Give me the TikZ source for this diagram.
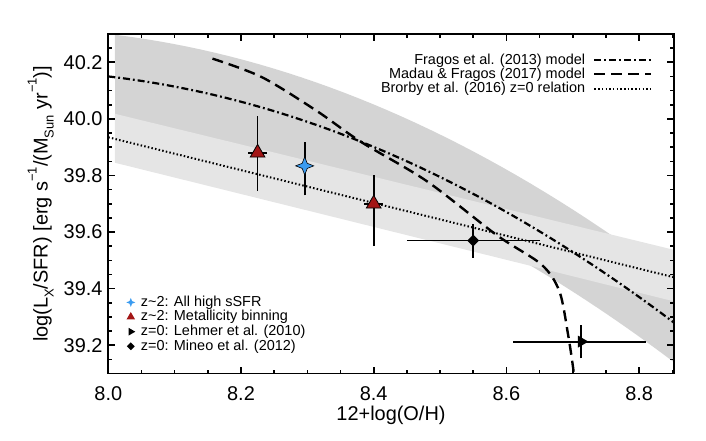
\documentclass[tikz,border=0pt]{standalone}
\usepackage{fontspec}
\setmainfont{Liberation Sans}
\usetikzlibrary{shapes.geometric}
\definecolor{dkband}{gray}{0.83}
\definecolor{ltband}{gray}{0.9}
\definecolor{tricol}{HTML}{A31515}
\definecolor{starcol}{HTML}{3A9BF0}
\newcommand\mysub[1]{\raisebox{-0.3em}{\fontsize{13}{13}\selectfont #1}}
\newcommand\mysup[1]{\raisebox{0.55em}{\fontsize{13}{13}\selectfont #1}}
\tikzset{
  axlab/.style={font=\fontsize{20}{20}\selectfont, inner sep=0pt},
  leg/.style={font=\fontsize{14.5}{14.5}\selectfont, inner sep=0pt},
  dashdotline/.style={line width=2.2bp, dash pattern=on 7bp off 3bp on 1.8bp off 3bp},
  dashline/.style={line width=2.4bp, dash pattern=on 11bp off 6bp},
  dotline/.style={line width=2bp, dash pattern=on 1.5bp off 2.2bp},
  errbar/.style={line width=1.8bp},
  tri/.style={regular polygon, regular polygon sides=3, inner sep=0pt, minimum size=#1, fill=tricol, draw=black, line width=0.8bp},
  rtri/.style={regular polygon, regular polygon sides=3, rotate=-90, inner sep=0pt, minimum size=#1, fill=black},
  bstar/.style={star, star points=4, star point ratio=2.5, inner sep=0pt, minimum size=#1, fill=starcol, draw=black, line width=0.6bp},
  dmd/.style={diamond, inner sep=0pt, minimum size=#1, fill=black},
}
\begin{document}
\begin{tikzpicture}[x=1bp,y=1bp]
\useasboundingbox (0,0) rectangle (706,441);
\begin{scope}[shift={(108.3,39.1)}, x=663.5bp, y=283bp]
  \begin{scope}
    \clip (0,0.1) rectangle (0.853,1.3);
    \fill[dkband] plot[domain=0.01:0.853,samples=40] (\x,{1.30-0.271*\x-0.879*\x*\x})
       -- plot[domain=0.853:0.01,samples=60] (\x,{min(1.01-0.271*\x-0.879*\x*\x, 0.99-0.5706*\x)}) -- cycle;
    \fill[ltband] (0.01,1.018) -- (0.853,0.537) -- (0.853,0.355) -- (0.01,0.845) -- cycle;
    \draw[dotline] (0,0.935) -- (0.853,0.44);
    \draw[dashdotline] plot[domain=0:0.853,samples=50] (\x,{1.15-0.271*\x-0.879*\x*\x});
    \draw[dashline] plot[smooth] coordinates {(0.157,1.213) (0.231,1.148) (0.313,1.03) (0.38,0.92) (0.48,0.78) (0.585,0.59) (0.653,0.485) (0.68,0.39) (0.693,0.237) (0.70,0.13) (0.702,0.09)};
  \end{scope}
  % error bars
  \draw[errbar] (0.225,0.745) -- (0.225,1.01) (0.211,0.88) -- (0.239,0.88);
  \draw[errbar] (0.296,0.73) -- (0.296,0.92);
  \draw[errbar] (0.40,0.55) -- (0.40,0.80) (0.386,0.70) -- (0.414,0.70);
  \draw[errbar] (0.45,0.57) -- (0.65,0.57) (0.55,0.51) -- (0.55,0.627);
  \draw[errbar] (0.61,0.213) -- (0.81,0.213) (0.713,0.154) -- (0.713,0.272);
  % markers
  \node[tri=17bp] (t1) at (0.225,0.88) {};
  \node[bstar=18bp] (s1) at (0.296,0.834) {};
  \node[tri=17bp] (t2) at (0.40,0.70) {};
  \node[dmd=12bp] (d1) at (0.55,0.57) {};
  \node[rtri=14bp] (r1) at (0.713,0.213) {};
  % frame and ticks
  \draw[line width=1.8bp] (0,0.1) rectangle (0.853,1.3);
  \foreach \i in {0,...,17} {
    \pgfmathsetmacro\xx{\i*0.05}
    \pgfmathsetmacro\tl{ifthenelse(mod(\i,4)==0,7,4)}
    \draw[line width=1.6bp] (\xx,0.1) -- ++(0,\tl bp) (\xx,1.3) -- ++(0,-\tl bp);
  }
  \foreach \i in {2,...,26} {
    \pgfmathsetmacro\yy{\i*0.05}
    \pgfmathsetmacro\tl{ifthenelse(mod(\i,4)==0,7,4)}
    \draw[line width=1.6bp] (0,\yy) -- ++(\tl bp,0) (0.853,\yy) -- ++(-\tl bp,0);
  }
  \foreach \v/\t in {0/8.0,0.2/8.2,0.4/8.4,0.6/8.6,0.8/8.8}
    \node[axlab, anchor=north, yshift=-12.5bp] (xl\t) at (\v,0.1) {\t};
  \foreach \v/\t in {0.2/39.2,0.4/39.4,0.6/39.6,0.8/39.8,1.0/40.0,1.2/40.2}
    \node[axlab, anchor=east, xshift=-5.6bp] (yl\t) at (0,\v) {\t};
\end{scope}
\node[axlab] (xtitle) at (391,25.4) {12+log(O/H)};
\node[axlab, rotate=90] (ytitle) at (40.8,237) {log(L\mysub{X}/SFR) [erg s\mysup{−1}/(M\mysub{Sun} yr\mysup{−1})]};
% top-right legend
\node[leg, anchor=east] (lg1) at (585.3,380.7) {Fragos et al. (2013) model};
\node[leg, anchor=east] (lg2) at (585.3,366.7) {Madau \& Fragos (2017) model};
\node[leg, anchor=east] (lg3) at (585.3,351.8) {Brorby et al. (2016) z=0 relation};
\coordinate (la1) at (594.4,380.7); \coordinate (lb1) at (650.6,380.7);
\coordinate (la2) at (594.4,366.7); \coordinate (lb2) at (650.6,366.7);
\coordinate (la3) at (594.4,351.8); \coordinate (lb3) at (650.6,351.8);
\draw[dashdotline] (la1) -- (lb1);
\draw[dashline] (la2) -- (lb2);
\draw[dotline] (la3) -- (lb3);
% bottom-left legend
\node[bstar=9bp, draw=none] (m1) at (130.8,138.6) {};
\node[tri=10bp, draw=none] (m2) at (130.8,124.0) {};
\node[rtri=9bp] (m3) at (130.8,109.3) {};
\node[dmd=8bp] (m4) at (130.8,94.7) {};
\node[leg, anchor=west] (b1) at (140.7,138.6) {z\textasciitilde 2: All high sSFR};
\node[leg, anchor=west] (b2) at (140.7,124.3) {z\textasciitilde 2: Metallicity binning};
\node[leg, anchor=west] (b3) at (140.7,109.3) {z=0: Lehmer et al. (2010)};
\node[leg, anchor=west] (b4) at (140.7,94.7) {z=0: Mineo et al. (2012)};
\end{tikzpicture}
\end{document}
